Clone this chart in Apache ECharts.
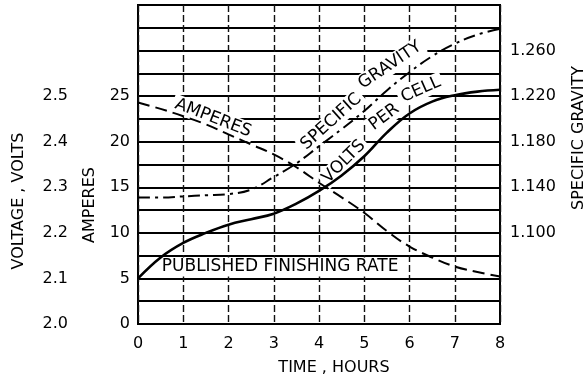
<!DOCTYPE html>
<html>
<head>
<meta charset="utf-8">
<script src="https://cdn.jsdelivr.net/npm/echarts@6/dist/echarts.min.js"></script>
<style>
  html, body { margin: 0; padding: 0; background: #fff; }
  #chart { width: 587px; height: 380px; }
</style>
</head>
<body>
<div id="chart"></div>
<script>
// Charging time in hours
const hours = [0, 0.5, 1, 1.5, 2, 2.5, 3, 3.5, 4, 4.5, 5, 5.5, 6, 6.5, 7, 7.5, 8];
// Cell voltage (volts)
const voltsPerCell = [2.100, 2.146, 2.178, 2.200, 2.218, 2.230, 2.242, 2.264, 2.292, 2.326, 2.368, 2.420, 2.462, 2.488, 2.502, 2.510, 2.514];
// Charging current (amperes)
const amperes = [24.3, 23.6, 22.8, 21.9, 20.8, 19.7, 18.6, 17.2, 15.5, 13.9, 12.2, 10.2, 8.5, 7.3, 6.3, 5.7, 5.2];
// Electrolyte specific gravity
const specificGravity = [1.131, 1.131, 1.132, 1.133, 1.134, 1.138, 1.149, 1.161, 1.176, 1.191, 1.207, 1.225, 1.241, 1.255, 1.266, 1.274, 1.279];

// Labelled ticks on each axis
const hourTicks = [0, 1, 2, 3, 4, 5, 6, 7, 8];
const ampereTicks = [0, 5, 10, 15, 20, 25];
const voltTicks = ['2.0', '2.1', '2.2', '2.3', '2.4', '2.5'];
const gravityTicks = ['1.100', '1.140', '1.180', '1.220', '1.260'];

const FONT = '"DejaVu Sans", sans-serif';
const chart = echarts.init(document.getElementById('chart'), null, { renderer: 'canvas' });

const pair = (vals) => hours.map((h, i) => [h, vals[i]]);

chart.setOption({
  animation: false,
  backgroundColor: '#fff',
  grid: { left: 138, right: 87, top: 5, bottom: 56, show: true, borderColor: '#000', borderWidth: 2, backgroundColor: 'transparent' },
  xAxis: {
    type: 'value', min: 0, max: 8, interval: 1,
    axisLine: { show: false }, axisTick: { show: false },
    splitLine: { show: true, lineStyle: { color: '#111', width: 1.4, type: [7, 3] } },
    axisLabel: {
      margin: 12, color: '#000', fontSize: 16, fontFamily: FONT,
      formatter: v => hourTicks.includes(Math.round(v)) ? String(Math.round(v)) : ''
    }
  },
  yAxis: [
    {
      type: 'value', position: 'left', min: 0, max: 35, interval: 2.5,
      axisLine: { show: false }, axisTick: { show: false },
      splitLine: { show: true, lineStyle: { color: '#000', width: 1.8 } },
      axisLabel: {
        margin: 8, color: '#000', fontSize: 16, fontFamily: FONT,
        formatter: v => ampereTicks.some(t => Math.abs(t - v) < 1e-6) ? String(Math.round(v)) : ''
      }
    },
    {
      type: 'value', position: 'left', offset: 62, min: 2.0, max: 2.7, interval: 0.05,
      axisLine: { show: false }, axisTick: { show: false }, splitLine: { show: false },
      axisLabel: {
        margin: 8, color: '#000', fontSize: 16, fontFamily: FONT,
        formatter: v => { const s = v.toFixed(1); return (Math.abs(v - Number(s)) < 1e-6 && voltTicks.includes(s)) ? s : ''; }
      }
    },
    {
      type: 'value', position: 'right', min: 1.02, max: 1.30, interval: 0.02,
      axisLine: { show: false }, axisTick: { show: false }, splitLine: { show: false },
      axisLabel: {
        margin: 10, color: '#000', fontSize: 16, fontFamily: FONT,
        formatter: v => { const s = v.toFixed(3); return gravityTicks.includes(s) ? s : ''; }
      }
    }
  ],
  series: [
    {
      name: 'VOLTS PER CELL', type: 'line', yAxisIndex: 1, data: pair(voltsPerCell),
      smooth: 0.4, symbol: 'none', z: 4,
      lineStyle: { color: '#000', width: 2.6 }
    },
    {
      name: 'AMPERES', type: 'line', yAxisIndex: 0, data: pair(amperes),
      smooth: 0.4, symbol: 'none', z: 3,
      lineStyle: { color: '#000', width: 2, type: [12, 6] }
    },
    {
      name: 'SPECIFIC GRAVITY', type: 'line', yAxisIndex: 2, data: pair(specificGravity),
      smooth: 0.4, symbol: 'none', z: 3,
      lineStyle: { color: '#000', width: 2, type: [12, 5, 3, 5] }
    }
  ]
});

// Curve captions placed in hour/ampere coordinates
const curveLabels = [
  { text: 'AMPERES', at: [1.66, 22.6], angle: -21 },
  { text: 'SPECIFIC', at: [4.27, 22.2], angle: 42 },
  { text: 'GRAVITY', at: [5.57, 28.4], angle: 34 },
  { text: 'VOLTS', at: [4.55, 17.8], angle: 45 },
  { text: 'PER', at: [5.44, 22.7], angle: 37 },
  { text: 'CELL', at: [6.25, 25.7], angle: 24 },
  { text: 'PUBLISHED FINISHING RATE', at: [3.14, 6.25], angle: 0 }
];

const graphics = curveLabels.map(l => {
  const p = chart.convertToPixel({ xAxisIndex: 0, yAxisIndex: 0 }, l.at);
  return {
    type: 'text', x: p[0], y: p[1], rotation: l.angle * Math.PI / 180, z: 1,
    style: {
      text: l.text, x: 0, y: 0, align: 'center', verticalAlign: 'middle',
      font: '17px ' + FONT, fill: '#000', backgroundColor: '#fff', padding: [1, 3]
    }
  };
});

// Axis titles
const titles = [
  { text: 'VOLTAGE , VOLTS', x: 19, y: 201, rot: 90 },
  { text: 'AMPERES', x: 90, y: 205, rot: 90 },
  { text: 'SPECIFIC GRAVITY', x: 579, y: 138, rot: 90 },
  { text: 'TIME , HOURS', x: 334, y: 368, rot: 0 }
];
titles.forEach(t => graphics.push({
  type: 'text', x: t.x, y: t.y, rotation: t.rot * Math.PI / 180, z: 5,
  style: { text: t.text, x: 0, y: 0, align: 'center', verticalAlign: 'middle', font: '16px ' + FONT, fill: '#000' }
}));

chart.setOption({ graphic: graphics });
</script>
</body>
</html>
